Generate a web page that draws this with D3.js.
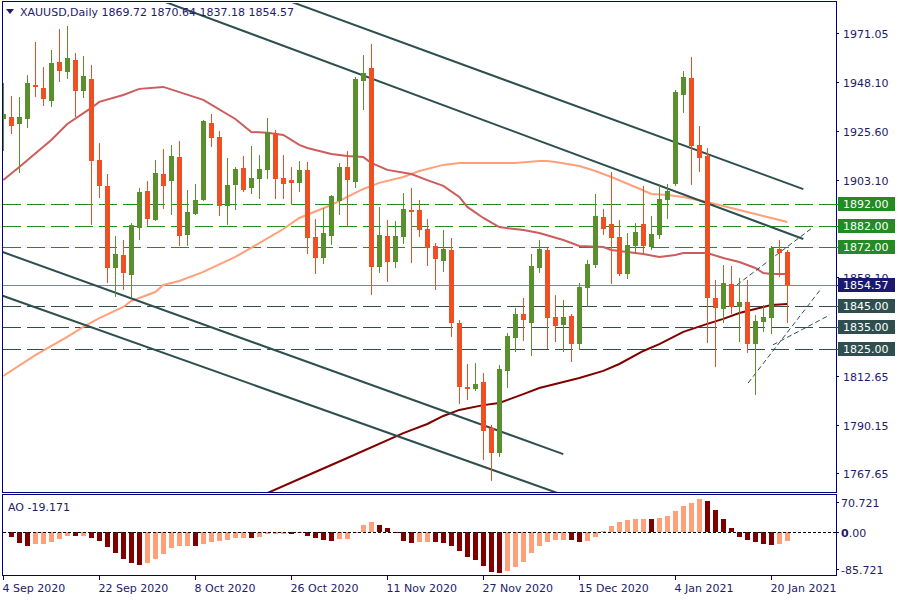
<!DOCTYPE html>
<html><head><meta charset="utf-8">
<script src="https://cdn.jsdelivr.net/npm/d3@7"></script>
<style>body{margin:0;background:#fff}svg{display:block}text{font-family:"DejaVu Sans",sans-serif;font-size:11px}</style>
</head><body><svg id="c" width="900" height="600"></svg>
<script>
const titleText = "XAUUSD,Daily";
const lastOHLC = [1869.72, 1870.64, 1837.18, 1854.57];
const open = [1931.2,1932.1,1928.9,1931.2,1946.9,1945.5,1939.5,1957.5,1952.9,1958.5,1944.1,1949.7,1912.3,1900.3,1862.4,1868.4,1859.2,1880.9,1898.0,1884.6,1905.8,1902.6,1913.7,1877.7,1887.4,1893.8,1929.4,1922.9,1891.0,1900.7,1908.6,1899.4,1903.5,1907.7,1924.7,1904.0,1903.0,1901.7,1907.7,1876.7,1867.0,1877.2,1893.4,1909.1,1902.1,1948.8,1954.8,1862.9,1877.2,1865.2,1876.7,1889.2,1889.2,1880.4,1872.6,1865.7,1870.7,1837.0,1807.5,1806.6,1809.8,1788.5,1777.0,1814.9,1830.1,1841.2,1837.0,1862.4,1870.7,1839.8,1836.1,1840.3,1827.3,1853.2,1863.8,1886.0,1882.7,1876.7,1859.6,1872.6,1882.7,1872.1,1877.7,1893.8,1901.2,1942.3,1950.1,1919.2,1914.1,1848.6,1843.5,1855.0,1844.4,1846.7,1827.3,1837.5,1839.3,1871.2,1869.72];
const high = [1947.8,1941.8,1941.4,1951.5,1966.8,1955.2,1963.1,1972.8,1974.2,1961.7,1960.3,1956.1,1920.1,1905.8,1877.2,1875.3,1883.2,1899.4,1902.6,1912.3,1917.4,1919.2,1921.1,1898.4,1901.2,1930.8,1933.5,1925.7,1913.2,1909.1,1914.1,1918.7,1914.6,1931.7,1926.1,1914.6,1909.1,1911.8,1911.4,1885.0,1890.1,1896.1,1910.9,1916.4,1950.6,1960.8,1965.8,1890.6,1884.6,1884.1,1897.0,1899.4,1893.8,1885.0,1874.0,1880.0,1876.3,1838.4,1818.1,1818.6,1813.9,1789.9,1817.6,1832.4,1844.0,1848.6,1868.9,1875.3,1871.7,1850.0,1847.6,1841.2,1855.5,1866.1,1896.6,1889.7,1906.7,1884.6,1878.6,1883.2,1900.3,1886.4,1901.2,1901.2,1944.6,1953.4,1959.8,1928.0,1917.8,1856.9,1863.8,1863.3,1857.8,1856.9,1840.7,1845.3,1872.6,1875.3,1870.64];
const low = [1916.4,1924.3,1906.3,1927.1,1941.4,1937.2,1936.8,1948.3,1949.7,1932.1,1940.9,1882.3,1894.7,1855.5,1849.0,1852.3,1848.6,1875.3,1881.8,1884.0,1889.7,1886.9,1872.6,1872.6,1886.9,1893.4,1918.3,1886.4,1882.3,1889.2,1897.5,1896.6,1894.3,1903.5,1894.3,1894.3,1891.5,1897.5,1868.9,1859.6,1864.3,1873.0,1886.9,1881.3,1899.4,1935.4,1850.0,1860.1,1856.0,1862.4,1873.5,1864.7,1876.7,1863.3,1852.3,1860.6,1830.6,1799.6,1801.5,1805.6,1773.8,1764.1,1775.2,1807.0,1823.6,1828.7,1821.8,1860.1,1825.0,1828.3,1823.6,1819.0,1824.6,1844.4,1862.4,1877.7,1855.0,1858.7,1857.3,1869.3,1868.9,1870.7,1875.8,1885.0,1900.3,1934.0,1900.7,1906.7,1827.8,1816.7,1837.0,1841.2,1828.3,1823.2,1803.8,1832.9,1831.9,1858.3,1837.18];
const close = [1933.5,1928.0,1932.1,1947.8,1946.0,1940.4,1957.1,1953.4,1959.4,1944.1,1951.1,1911.8,1900.3,1862.4,1868.9,1860.1,1882.3,1897.5,1885.0,1906.3,1900.3,1914.1,1877.2,1888.3,1893.8,1930.3,1922.4,1891.0,1900.7,1908.1,1898.4,1904.0,1908.1,1925.2,1903.5,1901.2,1901.7,1907.7,1876.3,1867.0,1878.6,1895.7,1909.1,1903.0,1949.7,1952.5,1862.9,1877.7,1865.2,1877.2,1889.7,1888.7,1880.0,1871.7,1866.6,1871.2,1837.0,1807.5,1806.6,1808.9,1787.2,1777.0,1815.8,1831.0,1841.2,1838.4,1863.3,1871.2,1839.3,1835.6,1839.8,1827.3,1853.6,1864.3,1886.4,1880.4,1876.3,1859.6,1873.0,1879.0,1872.6,1878.1,1894.3,1898.0,1943.7,1950.6,1918.7,1913.2,1848.6,1844.0,1855.5,1844.4,1846.7,1827.3,1837.9,1839.8,1871.7,1869.3,1854.57];
const aoValues = [-2,-10.2,-24.2,-31.2,-28,-26.5,-21.8,-15.6,-7.9,-8.5,-7.5,-12.5,-20.2,-33.5,-47.4,-61.4,-70.7,-75.3,-70.7,-62.1,-49.8,-35.8,-31.2,-30.8,-31.5,-28,-22.5,-20.2,-17.9,-12.5,-12.3,-12.8,-11.5,-4.7,-4,-3,-3.2,-2.8,-8,-12.5,-17.9,-20.2,-16.3,-14.7,1,17,24,17,9.3,-2.3,-19.4,-25.6,-22.5,-22.3,-22.8,-24.2,-31.2,-43.5,-56.7,-64.4,-77.7,-91.6,-93.9,-89.3,-80,-68.4,-48.8,-31.2,-21.8,-17.9,-17.5,-18.5,-22.5,-19.4,-10.2,2.3,14.6,24,28.6,30.9,31.2,30.5,33.2,38.6,49.5,61.2,68.8,77.4,72.8,51.9,30.9,10.7,-10.2,-17.9,-22.5,-26.5,-29.5,-26.5,-19.171];
const maFast = [[0,1903.0],[2,1909.0],[6,1921.5],[8,1928.9],[11,1936.3],[12,1939.1],[15,1942.3],[17,1945.1],[20,1946.0],[25,1940.0],[29,1931.2],[31,1925.2],[33,1924.8],[35,1923.8],[37,1919.2],[38,1917.8],[41,1915.0],[43,1914.1],[45,1913.6],[46,1910.9],[48,1907.7],[51,1905.8],[53,1903.0],[55,1900.3],[57,1895.2],[58,1890.6],[60,1885.5],[62,1881.3],[65,1879.9],[67,1878.6],[70,1875.3],[72,1872.6],[75,1872.1],[76,1870.7],[80,1868.9],[82,1867.5],[84,1868.4],[85,1869.3],[88,1869.3],[90,1867.0],[92,1865.2],[94,1862.4],[95,1860.1],[96,1859.6],[98,1859.6]];
const maMid = [[0,1812.6],[4,1822.2],[8,1830.6],[10,1835.2],[12,1839.3],[15,1844.4],[16,1847.2],[19,1851.3],[20,1854.6],[22,1856.4],[25,1860.6],[29,1867.5],[32,1873.9],[35,1880.4],[37,1885.5],[41,1891.5],[43,1895.2],[45,1898.9],[47,1901.7],[50,1904.4],[52,1907.2],[55,1910.0],[57,1910.9],[61,1910.9],[64,1910.9],[67,1911.8],[68,1911.8],[69,1911.3],[72,1909.5],[74,1907.2],[76,1904.4],[79,1899.8],[81,1896.6],[83,1896.1],[85,1895.2],[88,1892.9],[90,1891.0],[93,1888.3],[95,1886.4],[98,1883.6]];
const maSlow = [[31,1755.3],[33,1758.5],[37,1765.0],[43,1774.7],[50,1786.2],[53,1790.4],[55,1794.1],[57,1796.9],[60,1799.1],[62,1800.1],[65,1804.2],[67,1807.0],[70,1809.8],[72,1811.6],[75,1814.9],[77,1818.1],[80,1824.1],[82,1827.3],[85,1832.9],[88,1836.6],[90,1838.9],[92,1841.6],[95,1844.4],[96,1845.3],[98,1845.8]];
const greenLevels = [1892.00, 1882.00, 1872.00];
const slateLevels = [1845.00, 1835.00, 1825.00];
const bidLevel = 1854.57;
const priceTicks = [1971.05,1948.10,1925.60,1903.10,1858.10,1812.65,1790.15,1767.65];
const aoTicks = [70.721, 0, -85.721];
const aoLabels = ["70.721", "0.00", "-85.721"];
const tickBars = [0,12,24,36,48,60,72,84,96];
const tickLabels = ["4 Sep 2020","22 Sep 2020","8 Oct 2020","26 Oct 2020","11 Nov 2020","27 Nov 2020","15 Dec 2020","4 Jan 2021","20 Jan 2021"];
const trendLines = [[[30,1993.4],[100,1898.8]],[[18,1988.3],[100,1875.8]],[[-1,1871.0],[70,1776.5]],[[-1,1850.8],[70,1757.6]]];
const thinLines = [[[91.7,1854.6],[101.1,1880.9]],[[93.1,1809.3],[102.3,1853.2]],[[96.2,1826.9],[103.3,1840.7]]];

const svg = d3.select("#c");
const L = 3, R = 836, mTop = 2, mBot = 492, aTop = 495, aBot = 576;
const navy = "#000080", txt = "#231a6a";
const x = d3.scaleLinear().domain([0, 98]).range([3.3, 787.3]);
const y = d3.scaleLinear().domain([1759.0, 1985.2]).range([mBot, mTop]);
const ya = d3.scaleLinear().domain([-101.6, 86.7]).range([aBot, aTop]);

const defs = svg.append("defs");
defs.append("clipPath").attr("id","cm").append("rect").attr("x",L).attr("y",mTop+1).attr("width",R-L).attr("height",mBot-mTop-1);
defs.append("clipPath").attr("id","ca").append("rect").attr("x",L).attr("y",aTop+1).attr("width",R-L).attr("height",aBot-aTop-1);
defs.append("clipPath").attr("id","cb").append("rect").attr("x",838).attr("y",0).attr("width",62).attr("height",Math.round(y(bidLevel))-7);

const gm = svg.append("g").attr("clip-path","url(#cm)");
const lvl = (v, col, dash) => gm.append("line").attr("x1",L).attr("x2",R).attr("y1",Math.round(y(v))+0.5).attr("y2",Math.round(y(v))+0.5).attr("stroke",col).attr("stroke-width",1).attr("stroke-dasharray",dash);
greenLevels.forEach(v => lvl(v, "#228B22", "18,6"));
slateLevels.forEach(v => lvl(v, "#2F4F4F", "18,6"));
lvl(bidLevel, "#778899", null);

const ln = d3.line().x(d => x(d[0])).y(d => y(d[1]));
gm.append("path").datum(maMid).attr("d",ln).attr("fill","none").attr("stroke","#FFA07A").attr("stroke-width",2);
gm.append("path").datum(maFast).attr("d",ln).attr("fill","none").attr("stroke","#CD5C5C").attr("stroke-width",2);
gm.append("path").datum(maSlow).attr("d",ln).attr("fill","none").attr("stroke","#800000").attr("stroke-width",2);

trendLines.forEach(t => gm.append("path").datum(t).attr("d",ln).attr("fill","none").attr("stroke","#2F4F4F").attr("stroke-width",2));
thinLines.forEach(t => gm.append("path").datum(t).attr("d",ln).attr("fill","none").attr("stroke","#2F4F4F").attr("stroke-width",1).attr("stroke-dasharray","5,3"));

const bull = "#5A8F2E", bear = "#F04E23";
const cg = gm.append("g").attr("shape-rendering","crispEdges");
d3.range(open.length).forEach(i => {
  const c = Math.round(x(i));
  const col = close[i] >= open[i] ? bull : bear;
  const yh = Math.round(y(high[i])), yl = Math.round(y(low[i]));
  cg.append("rect").attr("x",c).attr("y",yh).attr("width",1).attr("height",Math.max(1,yl-yh)).attr("fill",col);
  const yt = Math.round(y(Math.max(open[i],close[i]))), yb = Math.round(y(Math.min(open[i],close[i])));
  cg.append("rect").attr("x",c-2).attr("y",yt).attr("width",5).attr("height",Math.max(2,yb-yt)).attr("fill",col);
});

const ga = svg.append("g").attr("clip-path","url(#ca)").attr("shape-rendering","crispEdges");
aoValues.forEach((v,i) => {
  const up = i > 0 && v > aoValues[i-1];
  const c = Math.round(x(i));
  const y0 = Math.round(ya(Math.max(0,v))), y1 = Math.round(ya(Math.min(0,v)));
  ga.append("rect").attr("x",c-2).attr("y",y0).attr("width",5).attr("height",Math.max(1,y1-y0)).attr("fill", up ? "#FFA07A" : "#800000");
});
svg.append("line").attr("x1",L).attr("x2",R).attr("y1",Math.round(ya(0))+0.5).attr("y2",Math.round(ya(0))+0.5).attr("stroke","#000").attr("stroke-dasharray","3,2");

svg.append("rect").attr("x",2.5).attr("y",1.5).attr("width",R-2).attr("height",mBot-1).attr("fill","none").attr("stroke",navy);
svg.append("rect").attr("x",2.5).attr("y",aTop-0.5).attr("width",R-2).attr("height",aBot-aTop).attr("fill","none").attr("stroke",navy);

priceTicks.forEach(p => {
  const yy = Math.round(y(p)) + 0.5;
  svg.append("line").attr("x1",R).attr("x2",R+3).attr("y1",yy).attr("y2",yy).attr("stroke",navy);
  const t = svg.append("text").attr("x",843).attr("y",yy+4).attr("fill",txt).text(p.toFixed(2));
  if (Math.abs(p - bidLevel) < 8) t.attr("clip-path","url(#cb)");
});
const box = (v, bg) => {
  const yy = Math.round(y(v));
  svg.append("line").attr("x1",R).attr("x2",838).attr("y1",yy+0.5).attr("y2",yy+0.5).attr("stroke",bg);
  svg.append("rect").attr("x",838).attr("y",yy-7).attr("width",57).attr("height",14).attr("fill",bg);
  svg.append("text").attr("x",843).attr("y",yy+4).attr("fill","#fff").text(v.toFixed(2));
};
greenLevels.forEach(v => box(v, "#228B22"));
slateLevels.forEach(v => box(v, "#2F4F4F"));
box(bidLevel, "#191970");

aoTicks.forEach((v,k) => {
  const yy = Math.round(ya(v)) + 0.5;
  svg.append("line").attr("x1",R).attr("x2",R+3).attr("y1",yy).attr("y2",yy).attr("stroke",navy);
  const t = svg.append("text").attr("x",841).attr("y",yy+4).attr("fill",txt);
  if (v === 0) {
    t.append("tspan").attr("font-weight","bold").text(aoLabels[k].slice(0,1));
    t.append("tspan").text(aoLabels[k].slice(1));
  } else t.text(aoLabels[k]);
});

tickBars.forEach((b,k) => {
  const xx = Math.round(x(b)) + 0.5;
  svg.append("line").attr("x1",xx).attr("x2",xx).attr("y1",aBot).attr("y2",aBot+4).attr("stroke",navy);
  svg.append("text").attr("x",xx-1).attr("y",592).attr("fill",txt).text(tickLabels[k]);
});

svg.append("path").attr("d","M6,9 L14,9 L10,14 Z").attr("fill",txt);
svg.append("text").attr("x",20).attr("y",16).attr("fill",txt).text(titleText + " " + lastOHLC.map(d=>d.toFixed(2)).join(" "));
svg.append("text").attr("x",8).attr("y",511).attr("fill",txt).text("AO " + aoValues[aoValues.length-1].toFixed(3));
</script></body></html>
